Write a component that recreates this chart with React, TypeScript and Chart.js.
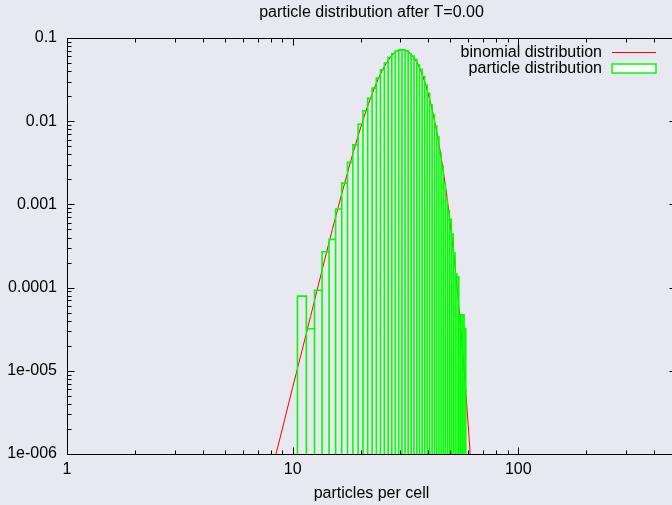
import React, { useEffect, useRef } from "react";
import { Chart, registerables } from "chart.js";

Chart.register(...registerables);

// ---------------- data ----------------
const chartTitle = "particle distribution after T=0.00";
const xAxisTitle = "particles per cell";
const binomialLabel = "binomial distribution";
const particleLabel = "particle distribution";

const xRange = [1, 500];
const yRange = [1e-6, 0.1];

const xTickValues = [1, 10, 100];
const xTickLabels = ["1", "10", "100"];
const yTickValues = [0.1, 0.01, 0.001, 0.0001, 1e-5, 1e-6];
const yTickLabels = ["0.1", "0.01", "0.001", "0.0001", "1e-005", "1e-006"];

// binomial distribution (red line), sampled at integer particle counts
const binomialN = [
  8, 9, 10, 11, 12, 13, 14, 15, 16, 17, 18, 19, 20, 21, 22, 23, 24, 25, 26, 27,
  28, 29, 30, 31, 32, 33, 34, 35, 36, 37, 38, 39, 40, 41, 42, 43, 44, 45, 46, 47,
  48, 49, 50, 51, 52, 53, 54, 55, 56, 57, 58, 59, 60, 61, 62,
];
const binomialP = [
  5.62e-7, 2.0e-6, 6.31e-6, 1.74e-5, 4.47e-5, 1.07e-4, 2.4e-4, 5.01e-4, 9.77e-4, 1.8e-3,
  3.16e-3, 5.25e-3, 8.32e-3, 1.26e-2, 1.8e-2, 2.48e-2, 3.27e-2, 4.12e-2, 4.98e-2, 5.78e-2,
  6.46e-2, 6.92e-2, 7.18e-2, 7.21e-2, 7.05e-2, 6.65e-2, 6.11e-2, 5.46e-2, 4.73e-2, 4.0e-2,
  3.3e-2, 2.65e-2, 2.07e-2, 1.59e-2, 1.19e-2, 8.75e-3, 6.31e-3, 4.45e-3, 3.08e-3, 2.08e-3,
  1.38e-3, 8.97e-4, 5.71e-4, 3.57e-4, 2.19e-4, 1.32e-4, 7.76e-5, 4.5e-5, 2.55e-5, 1.42e-5,
  7.8e-6, 4.19e-6, 2.21e-6, 1.15e-6, 5.89e-7,
];

// particle distribution (green boxes), one box per integer count
const particleN = [
  11, 12, 13, 14, 15, 16, 17, 18, 19, 20, 21, 22, 23, 24, 25, 26, 27, 28, 29, 30,
  31, 32, 33, 34, 35, 36, 37, 38, 39, 40, 41, 42, 43, 44, 45, 46, 47, 48, 49, 50,
  51, 52, 53, 54, 55, 56, 57, 58,
];
const particleP = [
  7.9e-5, 3.2e-5, 9.3e-5, 2.7e-4, 3.8e-4, 8.8e-4, 1.8e-3, 3.2e-3, 5.2e-3, 9.2e-3,
  1.33e-2, 1.88e-2, 2.5e-2, 3.3e-2, 4.15e-2, 5.0e-2, 5.85e-2, 6.5e-2, 6.95e-2, 7.2e-2,
  7.2e-2, 7.0e-2, 6.5e-2, 6.05e-2, 5.5e-2, 4.75e-2, 4.2e-2, 3.45e-2, 2.72e-2, 2.16e-2,
  1.57e-2, 1.19e-2, 8.75e-3, 6.5e-3, 4.1e-3, 2.9e-3, 1.8e-3, 1.13e-3, 8.4e-4, 6.6e-4,
  4.4e-4, 2.6e-4, 1.45e-4, 1.35e-4, 3.2e-5, 4.7e-5, 4.7e-5, 3.2e-5,
];

// ---------------- style ----------------
const BG = "#e8e8f0";
const FONT = "'Liberation Sans', Arial, Helvetica, sans-serif";
const RED = "#ff0000";
const GREEN = "#00ff00";
const BOX_HALF = 0.5;
const BOX_BASE = 1e-8; // below the axis minimum: the box bottoms are clipped away

const CANVAS_W = 743;
const CANVAS_H = 505;
const PLOT_LEFT = 67;
const PLOT_RIGHT = 676;
const PLOT_TOP = 38;
const PLOT_BOTTOM = 454;

const backgroundPlugin = {
  id: "bg",
  beforeDraw(chart: any) {
    const { ctx } = chart;
    ctx.save();
    ctx.fillStyle = BG;
    ctx.fillRect(0, 0, chart.width, chart.height);
    ctx.restore();
  },
};

const titlePlugin = {
  id: "centeredTitle",
  afterDraw(chart: any) {
    const { ctx, chartArea } = chart;
    ctx.save();
    ctx.font = `16px ${FONT}`;
    ctx.fillStyle = "#000";
    ctx.textAlign = "center";
    ctx.textBaseline = "middle";
    ctx.fillText(chartTitle, (chartArea.left + chartArea.right) / 2, chartArea.top - 25.5);
    ctx.restore();
  },
};

const frameTicksPlugin = {
  id: "frameTicks",
  afterDatasetsDraw(chart: any) {
    const { ctx, chartArea } = chart;
    const xs = chart.scales.x;
    const ys = chart.scales.y;
    const { left, right, top, bottom } = chartArea;
    ctx.save();
    ctx.strokeStyle = "#000";
    ctx.lineWidth = 1;
    const major = 7;
    const minor = 4;
    const L = Math.round(left) + 0.5;
    const R = Math.round(right) + 0.5;
    const T = Math.round(top) + 0.5;
    const B = Math.round(bottom) + 0.5;
    ctx.beginPath();
    for (let e = Math.floor(Math.log10(xs.min)); e <= Math.ceil(Math.log10(xs.max)); e++) {
      for (let m = 1; m <= 9; m++) {
        const v = m * Math.pow(10, e);
        if (v < xs.min * 0.9999 || v > xs.max * 1.0001) continue;
        const px = Math.round(xs.getPixelForValue(v)) + 0.5;
        const len = m === 1 ? major : minor;
        ctx.moveTo(px, B);
        ctx.lineTo(px, B - len);
        ctx.moveTo(px, T);
        ctx.lineTo(px, T + len);
      }
    }
    for (let e = Math.floor(Math.log10(ys.min)); e <= Math.ceil(Math.log10(ys.max)); e++) {
      for (let m = 1; m <= 9; m++) {
        const v = m * Math.pow(10, e);
        if (v < ys.min * 0.9999 || v > ys.max * 1.0001) continue;
        const py = Math.round(ys.getPixelForValue(v)) + 0.5;
        const len = m === 1 ? major : minor;
        ctx.moveTo(L, py);
        ctx.lineTo(L + len, py);
        ctx.moveTo(R, py);
        ctx.lineTo(R - len, py);
      }
    }
    ctx.stroke();
    ctx.strokeRect(L, T, R - L, B - T);
    ctx.restore();
  },
};

const legendPlugin = {
  id: "gnuLegend",
  afterDraw(chart: any) {
    const { ctx, chartArea } = chart;
    const ds = chart.data.datasets;
    const textRight = chartArea.right - 74;
    const sx0 = Math.round(chartArea.right - 64);
    const sx1 = Math.round(chartArea.right - 20);
    const row0 = Math.round(chartArea.top + 14);
    const row1 = Math.round(chartArea.top + 30);
    ctx.save();
    ctx.font = `16px ${FONT}`;
    ctx.fillStyle = "#000";
    ctx.textAlign = "right";
    ctx.textBaseline = "middle";
    ctx.fillText(ds[0].label, textRight, row0 + 0.5);
    ctx.fillText(ds[1].label, textRight, row1 + 0.5);
    // red line sample
    ctx.fillStyle = RED;
    ctx.fillRect(sx0, row0, sx1 - sx0, 1);
    // green box sample
    ctx.fillStyle = "#ffffff";
    ctx.fillRect(sx0, row1 - 4, sx1 - sx0, 9);
    ctx.strokeStyle = GREEN;
    ctx.lineWidth = 1.5;
    ctx.strokeRect(sx0, row1 - 4, sx1 - sx0, 9);
    ctx.restore();
  },
};

export default function App() {
  const ref = useRef<HTMLCanvasElement | null>(null);

  useEffect(() => {
    if (!ref.current) return;

    const binomialData = binomialN.map((n, i) => ({ x: n, y: binomialP[i] }));
    const boxData: { x: number; y: number }[] = [];
    particleN.forEach((n, i) => {
      const v = particleP[i];
      boxData.push({ x: n - BOX_HALF, y: BOX_BASE });
      boxData.push({ x: n - BOX_HALF, y: v });
      boxData.push({ x: n + BOX_HALF, y: v });
      boxData.push({ x: n + BOX_HALF, y: BOX_BASE });
    });

    const chart = new Chart(ref.current, {
      type: "line",
      data: {
        datasets: [
          {
            label: binomialLabel,
            data: binomialData,
            borderColor: RED,
            borderWidth: 1,
            pointRadius: 0,
            tension: 0,
            fill: false,
            order: 2,
          },
          {
            label: particleLabel,
            data: boxData,
            borderColor: GREEN,
            borderWidth: 1.6,
            pointRadius: 0,
            tension: 0,
            fill: false,
            borderJoinStyle: "miter",
            order: 1,
          },
        ],
      },
      options: {
        animation: false,
        responsive: false,
        devicePixelRatio: 1,
        events: [],
        layout: {
          padding: { left: 0, right: CANVAS_W - PLOT_RIGHT, top: PLOT_TOP, bottom: 0 },
        },
        plugins: {
          legend: { display: false },
          tooltip: { enabled: false },
          title: { display: false },
        },
        scales: {
          x: {
            type: "logarithmic",
            min: xRange[0],
            max: xRange[1],
            grid: { display: false, drawTicks: false },
            border: { display: false },
            afterBuildTicks: (s: any) => {
              s.ticks = xTickValues.map((v) => ({ value: v, major: true }));
            },
            afterFit: (s: any) => {
              s.height = CANVAS_H - PLOT_BOTTOM;
            },
            ticks: {
              autoSkip: false,
              maxRotation: 0,
              color: "#000",
              padding: 6,
              font: { family: FONT, size: 16 },
              callback: (v: any) => {
                const i = xTickValues.indexOf(Number(v));
                return i >= 0 ? xTickLabels[i] : "";
              },
            },
            title: {
              display: true,
              text: xAxisTitle,
              color: "#000",
              font: { family: FONT, size: 16, lineHeight: 1.2 },
              padding: { top: 0, bottom: 2 },
            },
          },
          y: {
            type: "logarithmic",
            min: yRange[0],
            max: yRange[1],
            grid: { display: false, drawTicks: false },
            border: { display: false },
            afterBuildTicks: (s: any) => {
              s.ticks = yTickValues.map((v) => ({ value: v, major: true }));
            },
            afterFit: (s: any) => {
              s.width = PLOT_LEFT;
            },
            ticks: {
              autoSkip: false,
              color: "#000",
              padding: 10,
              font: { family: FONT, size: 16 },
              callback: (v: any) => {
                const i = yTickValues.indexOf(Number(v));
                return i >= 0 ? yTickLabels[i] : "";
              },
            },
          },
        },
      } as any,
      plugins: [backgroundPlugin, frameTicksPlugin, legendPlugin, titlePlugin],
    });

    return () => chart.destroy();
  }, []);

  return (
    <div
      style={{
        position: "fixed",
        left: 0,
        top: 0,
        width: 672,
        height: 505,
        overflow: "hidden",
        background: BG,
      }}
    >
      <canvas ref={ref} width={CANVAS_W} height={CANVAS_H} style={{ display: "block" }} />
    </div>
  );
}
